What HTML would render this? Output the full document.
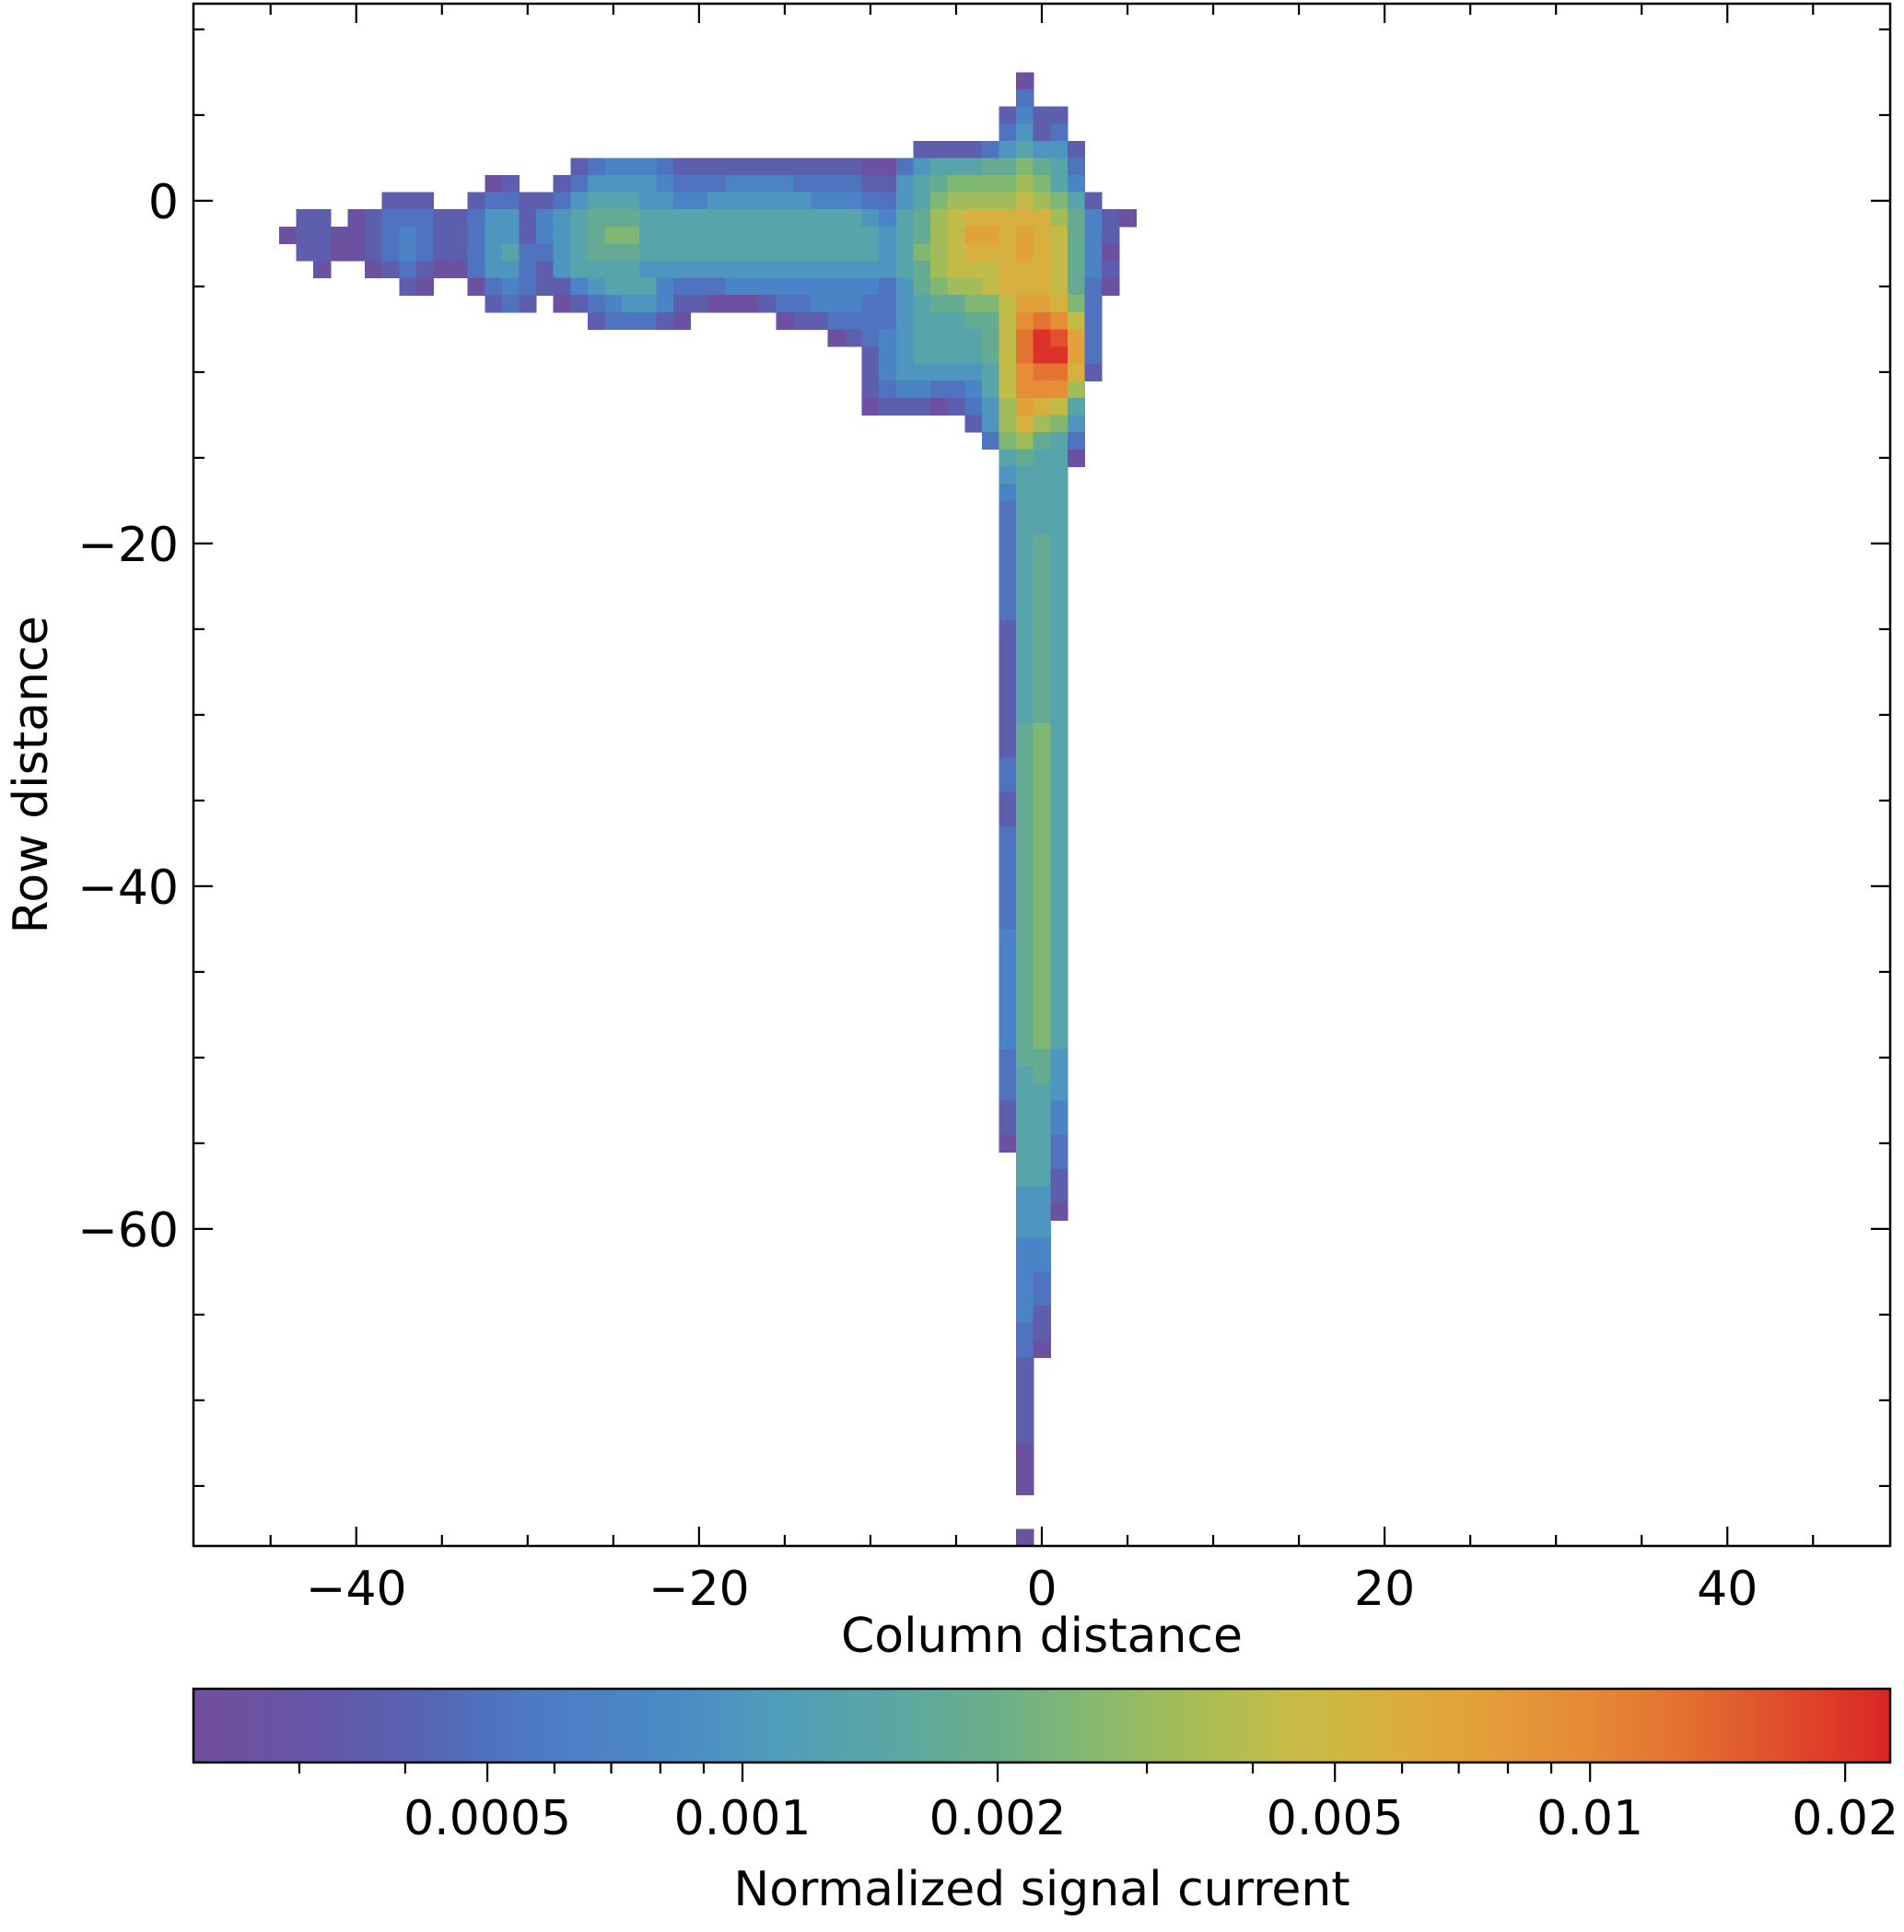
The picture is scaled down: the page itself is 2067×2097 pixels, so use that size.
<!DOCTYPE html>
<html><head><meta charset="utf-8"><style>
html,body{margin:0;padding:0;background:#fff;}
svg{display:block;font-family:"DejaVu Sans","Liberation Sans",sans-serif;}
</style></head><body>
<svg id="chart" width="2067" height="2097" viewBox="0 0 2067 2097" xmlns="http://www.w3.org/2000/svg">
<defs>
<linearGradient id="cmapGrad" x1="0" x2="1" y1="0" y2="0"></linearGradient>
<clipPath id="plotClip"><rect x="210" y="4" width="1842" height="1674"/></clipPath>
</defs>
<g id="cells" clip-path="url(#plotClip)" shape-rendering="crispEdges"></g>
<g id="axes"></g>
<g id="cbar"></g>
</svg>
<script>
// ---- data ----
const codeChars = "0123456789ABCDEF";
const codeValues = [2.58e-4,3.73e-4,5.15e-4,7.11e-4,9.84e-4,1.36e-3,1.79e-3,2.47e-3,3.26e-3,4.30e-3,5.66e-3,7.13e-3,9.42e-3,1.24e-2,1.64e-2,2.06e-2];
// head region rows: [row, startColumn, codes]
const headRows = [
 [7,-1,"0"],
 [6,-1,"2"],
 [5,-2,"1311"],
 [4,-2,"2412"],
 [3,-7,"1111245441"],
 [2,-27,"12333211"+"111111111"+"00"+"24555667652"],
 [1,-32,"01"+".."+"1"+"24444322"+"233332222"+"11"+"45677778753"],
 [0,-38,"111"+".."+"1"+"2211245554433"+"444444"+"333"+"22"+"457888898751"],
 [-1,-43,"11"+"."+"0"+"12221124413456665555"+"555555555"+"4"+"3"+"5689AAAAA86310"],
 [-2,-44,"0110012321124413456775555"+"5555555555"+"4"+"5689BBABA9631"],
 [-3,-43,"110012321124522456665555"+"5555555555"+"4"+"5789AAABA9630"],
 [-4,-42,"0"+".."+"01210024421455554444"+"4444444444"+"4"+"568999AAA9631"],
 [-5,-37,"10..02321134555322"+"2333333333"+"2"+"467889AAA9620"],
 [-6,-32,"121.012344311"+"000122333224566779BBA72"],
 [-7,-26,"122210"+"....."+"01122224555669CDC92"],
 [-8,-12,"01234555569DFEB2"],
 [-9,-10,"134555569DFFB2"],
 [-10,-10,"134444459CDDA1"],
 [-11,-10,"123322359CCC8"],
 [-12,-10,"011101248BA95"],
 [-13,-4,"148A874"],
 [-14,-3,"278652"],
 [-15,-2,"56550"],
 [-16,-2,"4555"]
];
// vertical trail: codes per column from row -17 downward
const trailStartRow = -17;
const trailColumns = [-2,-1,0,1];
const trailColM2 = "3"+"2222222"+"11111"+"111"+"22"+"11"+"222222"+"33333"+"33"+"222"+"11"+"0";
const trailColM1 = "55555555555555"+"66666666666666666666"+"5555555"+"444"+"33333"+"22"+"11111"+"000"+".."+"0";
const trailCol0 = "555"+"66666666666"+"7777777777777777777"+"66"+"555555"+"444"+"33"+"22"+"11"+"0";
const trailCol1 = "555555555555555555555555555555555"+"444"+"33"+"22"+"11"+"0";
const xTickVals = [-40,-20,0,20,40];
const yTickVals = [0,-20,-40,-60];
const cbarTickVals = [0.0005,0.001,0.002,0.005,0.01,0.02];
const cbarTickLabels = ["0.0005","0.001","0.002","0.005","0.01","0.02"];
const cbarMinorVals = [0.0003,0.0004,0.0006,0.0007,0.0008,0.0009,0.003,0.004,0.006,0.007,0.008,0.009];

// ---- scales ----
const PX0=210, PX1=2052, PY0=4, PY1=1678;
const XMIN=-49.5, XMAX=49.5, YMIN=-78.5, YMAX=11.5;
const VMIN=2.25e-4, VMAX=2.26e-2;
function X(v){return PX0+(v-XMIN)/(XMAX-XMIN)*(PX1-PX0);}
function Y(v){return PY0+(YMAX-v)/(YMAX-YMIN)*(PY1-PY0);}
function F(val){return (Math.log10(val)-Math.log10(VMIN))/(Math.log10(VMAX)-Math.log10(VMIN));}
const CB_X0=210, CB_X1=2052, CB_Y0=1833, CB_Y1=1913;
function CX(val){return CB_X0+F(val)*(CB_X1-CB_X0);}
const stops=[[0,"#714e9d"],[0.08,"#6456a8"],[0.14,"#5566b4"],[0.2,"#4c7ac5"],[0.28,"#4b8ac7"],[0.34,"#4f9cbb"],[0.4,"#58a5a8"],[0.47,"#6aae8c"],[0.53,"#85b96e"],[0.59,"#a8bd55"],[0.65,"#c8bb46"],[0.7,"#d8b03f"],[0.76,"#e49f3a"],[0.82,"#e68a36"],[0.88,"#e46f30"],[0.94,"#df4b2b"],[1,"#da2525"]];
function hex(h){return [1,3,5].map(i=>parseInt(h.substr(i,2),16));}
function cmap(f){f=Math.max(0,Math.min(1,f));for(let i=1;i<stops.length;i++){if(f<=stops[i][0]){const a=stops[i-1],b=stops[i];const t=(f-a[0])/(b[0]-a[0]);const ca=hex(a[1]),cb=hex(b[1]);return "rgb("+ca.map((c,k)=>Math.round(c+(cb[k]-c)*t)).join(",")+")";}}return stops[stops.length-1][1];}

const NS="http://www.w3.org/2000/svg";
function mk(tag,attrs,parent){const e=document.createElementNS(NS,tag);for(const k in attrs)e.setAttribute(k,attrs[k]);parent.appendChild(e);return e;}

// ---- cells ----
const cellsG=document.getElementById('cells');
function drawCell(row,col,ch){
  const idx=codeChars.indexOf(ch); if(idx<0) return;
  const val=codeValues[idx];
  const x0=X(col-0.5), x1=X(col+0.5), y0=Y(row+0.5), y1=Y(row-0.5);
  const r=mk('rect',{x:x0.toFixed(2),y:y0.toFixed(2),width:(x1-x0+0.6).toFixed(2),height:(y1-y0+0.6).toFixed(2),fill:cmap(F(val))},cellsG);
  
  
}
headRows.forEach(([row,c0,s])=>{for(let i=0;i<s.length;i++)drawCell(row,c0+i,s[i]);});
[trailColM2,trailColM1,trailCol0,trailCol1].forEach((s,j)=>{for(let i=0;i<s.length;i++)drawCell(trailStartRow-i,trailColumns[j],s[i]);});

// ---- axes ----
const ax=document.getElementById('axes');
const frame=mk('rect',{x:PX0,y:PY0,width:PX1-PX0,height:PY1-PY0,fill:"none",stroke:"#000","stroke-width":2.5},ax);


const MAJ=21, MIN=12, SW=2.2;
for(let v=-45;v<=45;v+=5){
  const major=xTickVals.includes(v); const L=major?MAJ:MIN; const x=X(v);
  const t1=mk('line',{x1:x,x2:x,y1:PY1,y2:PY1-L,stroke:"#000","stroke-width":SW},ax);
  
  
  const t2=mk('line',{x1:x,x2:x,y1:PY0,y2:PY0+L,stroke:"#000","stroke-width":SW},ax);
  
  
}
xTickVals.forEach(v=>{
  const t=mk('text',{x:X(v),y:1742,"text-anchor":"middle","font-size":52,fill:"#000"},ax);
  t.textContent=(v<0?"\u2212":"")+Math.abs(v);
  
  
});
for(let v=10;v>=-75;v-=5){
  const major=yTickVals.includes(v); const L=major?MAJ:MIN; const y=Y(v);
  const t1=mk('line',{x1:PX0,x2:PX0+L,y1:y,y2:y,stroke:"#000","stroke-width":SW},ax);
  
  
  const t2=mk('line',{x1:PX1,x2:PX1-L,y1:y,y2:y,stroke:"#000","stroke-width":SW},ax);
  
  
}
yTickVals.forEach(v=>{
  const t=mk('text',{x:194,y:Y(v)+19,"text-anchor":"end","font-size":52,fill:"#000"},ax);
  t.textContent=(v<0?"\u2212":"")+Math.abs(v);
  
  
});
const xt=mk('text',{x:1131,y:1793,"text-anchor":"middle","font-size":52,fill:"#000"},ax);
xt.textContent="Column distance";


const yt=mk('text',{x:0,y:0,"text-anchor":"middle","font-size":52,fill:"#000",transform:"translate(51,841) rotate(-90)"},ax);
yt.textContent="Row distance";



// ---- colorbar ----
const grad=document.getElementById('cmapGrad');
stops.forEach(([o,c])=>{mk('stop',{offset:o,"stop-color":c},grad);});
const cb=document.getElementById('cbar');
const bar=mk('rect',{x:CB_X0,y:CB_Y0,width:CB_X1-CB_X0,height:CB_Y1-CB_Y0,fill:"url(#cmapGrad)",stroke:"#000","stroke-width":2.5},cb);


cbarMinorVals.forEach(v=>{
  const l=mk('line',{x1:CX(v),x2:CX(v),y1:CB_Y1,y2:CB_Y1+MIN,stroke:"#000","stroke-width":SW},cb);
  
  
});
cbarTickVals.forEach((v,i)=>{
  const l=mk('line',{x1:CX(v),x2:CX(v),y1:CB_Y1,y2:CB_Y1+MAJ,stroke:"#000","stroke-width":SW},cb);
  
  
  const t=mk('text',{x:CX(v),y:1991,"text-anchor":"middle","font-size":52,fill:"#000"},cb);
  t.textContent=cbarTickLabels[i];
  
  
});
const ct=mk('text',{x:1131,y:2068,"text-anchor":"middle","font-size":52,fill:"#000"},cb);
ct.textContent="Normalized signal current";


</script>
</body></html>
